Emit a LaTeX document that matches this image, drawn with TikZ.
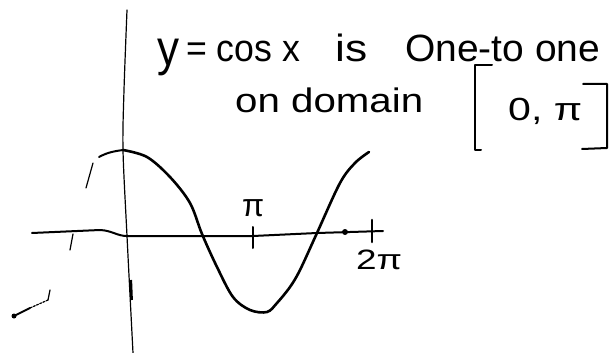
\documentclass[tikz,border=0pt]{standalone}
\usepackage{fontspec}
\setmainfont{Liberation Sans}
\usepackage{graphicx}
\newcommand{\hwfit}[2]{\resizebox{#1}{\height}{#2}}
\begin{document}
\begin{tikzpicture}[x=1pt,y=-1pt,
  ink/.style={line width=2.6pt, line cap=round, line join=round},
  axisline/.style={line width=2pt, line cap=round, line join=round},
  thin/.style={line width=1.2pt, line cap=round, line join=round},
  txt/.style={inner sep=0pt, anchor=base west}]
\useasboundingbox (0,0) rectangle (614,353);

% text
\node[txt] (t1a) at (157,66) {\fontsize{50}{56}\selectfont\hwfit{22pt}{y}};
\node[txt] (t1b) at (186,62) {\fontsize{38}{44}\selectfont\hwfit{114pt}{= cos x}};
\node[txt] (t2) at (335,62) {\fontsize{38}{44}\selectfont\hwfit{32pt}{is}};
\node[txt] (t3) at (405,62) {\fontsize{38}{44}\selectfont\hwfit{195pt}{One-to one}};
\node[txt] (t4) at (235,113) {\fontsize{34}{40}\selectfont\hwfit{188pt}{on domain}};
\node[txt] (t5) at (508,121) {\fontsize{32}{38}\selectfont\hwfit{74pt}{0, π}};
\node[txt] (pi) at (242,216) {\fontsize{32}{38}\selectfont π};
\node[txt] (tpi) at (356,269) {\fontsize{28}{34}\selectfont\hwfit{46pt}{2π}};

% brackets
\draw[axisline] (492,65) -- (475,65) -- (475,150) -- (481,150);
\draw[axisline] (583,84) -- (607,84) -- (607,148) -- (582,149);

% vertical axis
\draw[thin] plot[smooth] coordinates {(127,10) (124,90) (123,150) (127,236) (133,353)};
\draw[line width=2.6pt] (130.8,280) -- (131.6,300);

% horizontal axis
\draw[axisline] (32,233) -- (100,230) .. controls (112,230.5) and (117,236) .. (127,236) -- (253,236) -- (317,233) -- (383,231);
\fill (345,232) circle (3pt);
\draw[axisline] (253,227) -- (253,248);
\draw[ink] (372,220) -- (372,242);

% cosine curve
\draw[ink] plot[smooth, tension=0.55] coordinates {(123,150) (147,157) (170,177) (190,203) (202,234) (217,267) (233,297) (250,310) (267,312) (277,303) (290,287) (300,270) (317,233) (340,183) (355,163) (369,152)};

% sketchy left parts
\draw[axisline] (99,157) .. controls (108,152) and (116,151) .. (123,150);
\draw[thin] (86,188) -- (93,163);
\draw[thin] (73,234) -- (70,250);
\draw[thin] (50,290) -- (48,300);
\draw[thin, dash pattern=on 2pt off 1.5pt] (48,300) -- (30,308);
\draw[axisline] (30,308) -- (14,316);
\fill (14,316) circle (2.5pt);
\end{tikzpicture}
\end{document}
